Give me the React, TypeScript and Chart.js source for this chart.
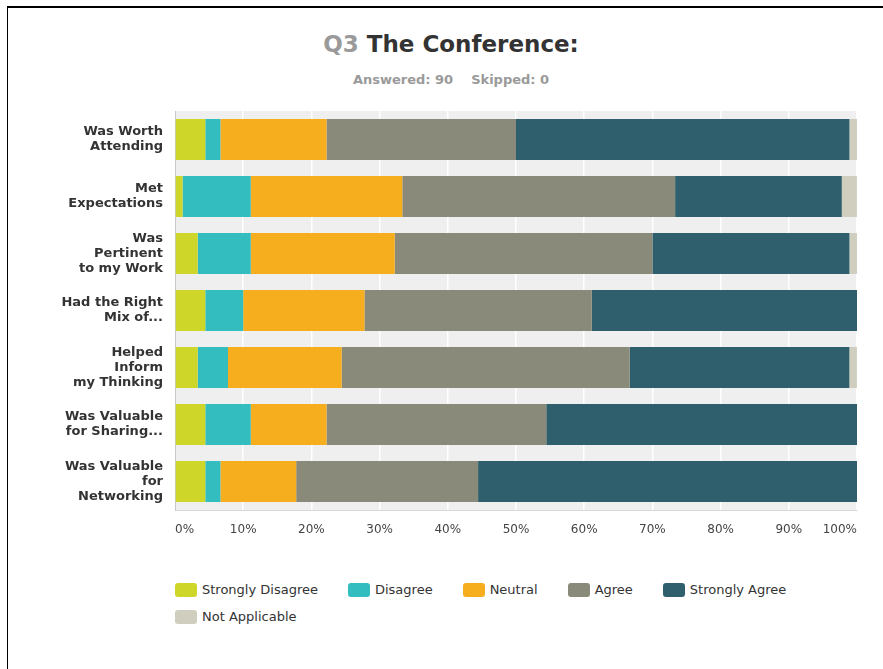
import React, { useEffect, useRef } from "react";
import { Chart, registerables } from "chart.js";

Chart.register(...registerables);

const categories: string[][] = [
  ["Was Worth", "Attending"],
  ["Met", "Expectations"],
  ["Was", "Pertinent", "to my Work"],
  ["Had the Right", "Mix of..."],
  ["Helped", "Inform", "my Thinking"],
  ["Was Valuable", "for Sharing..."],
  ["Was Valuable", "for", "Networking"],
];

const seriesNames = [
  "Strongly Disagree",
  "Disagree",
  "Neutral",
  "Agree",
  "Strongly Agree",
  "Not Applicable",
];

const seriesColors = ["#cfd62a", "#33bdbf", "#f6ae1f", "#898a79", "#2f5f6d", "#d0cfbf"];

const stronglyDisagree = [4.44, 1.11, 3.33, 4.44, 3.33, 4.44, 4.44];
const disagree = [2.22, 10.0, 7.78, 5.56, 4.44, 6.67, 2.22];
const neutral = [15.56, 22.22, 21.11, 17.78, 16.67, 11.11, 11.11];
const agree = [27.78, 40.0, 37.78, 33.33, 42.22, 32.22, 26.67];
const stronglyAgree = [48.89, 24.44, 28.89, 38.89, 32.22, 45.56, 55.56];
const notApplicable = [1.11, 2.22, 1.11, 0, 1.11, 0, 0];

const seriesValues = [stronglyDisagree, disagree, neutral, agree, stronglyAgree, notApplicable];

const xTickValues = [0, 10, 20, 30, 40, 50, 60, 70, 80, 90, 100];

const FONT = "'DejaVu Sans', Verdana, sans-serif";

export default function App() {
  const ref = useRef<HTMLCanvasElement>(null);

  useEffect(() => {
    document.body.style.overflow = "hidden";
    const plotBg = {
      id: "plotBg",
      beforeDraw(chart: any) {
        const { ctx, chartArea } = chart;
        ctx.save();
        ctx.fillStyle = "#efefef";
        ctx.fillRect(chartArea.left, chartArea.top, chartArea.width, chartArea.height);
        ctx.restore();
      },
    };
    const chart = new Chart(ref.current as HTMLCanvasElement, {
      type: "bar",
      data: {
        labels: categories as any,
        datasets: seriesNames.map((name, i) => ({
          label: name,
          data: seriesValues[i],
          backgroundColor: seriesColors[i],
          borderWidth: 0,
          barPercentage: 0.72,
          categoryPercentage: 1,
        })),
      },
      options: {
        indexAxis: "y",
        responsive: false,
        animation: false,
        devicePixelRatio: 1,
        layout: { padding: { top: 11, right: 26, left: 0, bottom: 0 } },
        plugins: {
          legend: { display: false },
          tooltip: { enabled: false },
          title: { display: false },
        },
        scales: {
          x: {
            type: "linear",
            stacked: true,
            min: 0,
            max: 100,
            afterBuildTicks: (s: any) => {
              s.ticks = xTickValues.map((v) => ({ value: v }));
            },
            afterFit: (s: any) => {
              s.height = 40;
              s.paddingLeft = 0;
              s.paddingRight = 0;
            },
            grid: { color: "#ffffff", lineWidth: 1.5, drawTicks: false },
            border: { display: true, color: "#d8d8d8", width: 1 },
            ticks: {
              callback: (v: any) => v + "%",
              align: "inner",
              padding: 13,
              color: "#444444",
              maxRotation: 0,
              autoSkip: false,
              font: { family: FONT, size: 12 },
            },
          },
          y: {
            stacked: true,
            afterFit: (s: any) => {
              s.width = 175;
              s.paddingTop = 0;
              s.paddingBottom = 0;
            },
            grid: { display: false, drawTicks: false },
            border: { display: true, color: "#c8c8c8", width: 1 },
            ticks: {
              padding: 12,
              color: "#333333",
              autoSkip: false,
              font: { family: FONT, size: 13, weight: "bold", lineHeight: 1.15 },
            },
          },
        },
      } as any,
      plugins: [plotBg],
    });
    return () => chart.destroy();
  }, []);

  return (
    <div
      style={{
        position: "fixed",
        left: 0,
        top: 0,
        width: 883,
        height: 669,
        overflow: "hidden",
        background: "#ffffff",
        fontFamily: FONT,
      }}
    >
      <div
        style={{
          position: "absolute",
          left: 7,
          top: 6,
          width: 876,
          height: 663,
          boxSizing: "border-box",
          borderTop: "2px solid #000",
          borderLeft: "1px solid #000",
        }}
      />
      <div
        style={{
          position: "absolute",
          left: 0,
          top: 30,
          width: 902,
          textAlign: "center",
          fontSize: 23,
          lineHeight: "28px",
          fontWeight: "bold",
          whiteSpace: "nowrap",
        }}
      >
        <span style={{ color: "#9a9a9a" }}>Q3</span>
        <span style={{ color: "#333333" }}> The Conference:</span>
      </div>
      <div
        style={{
          position: "absolute",
          left: 0,
          top: 72,
          width: 902,
          textAlign: "center",
          fontSize: 13,
          lineHeight: "16px",
          fontWeight: "bold",
          color: "#9a9a9a",
          whiteSpace: "nowrap",
        }}
      >
        <span>Answered: 90</span>
        <span style={{ marginLeft: 18 }}>Skipped: 0</span>
      </div>
      <canvas
        ref={ref}
        width={883}
        height={450}
        style={{ position: "absolute", left: 0, top: 100, width: 883, height: 450, display: "block" }}
      />
      <div
        style={{
          position: "absolute",
          left: 175,
          top: 583,
          width: 690,
          display: "flex",
          flexWrap: "wrap",
          columnGap: 30,
          rowGap: 13,
        }}
      >
        {seriesNames.map((name, i) => (
          <div key={name} style={{ display: "flex", alignItems: "center", height: 14 }}>
            <div
              style={{
                width: 22,
                height: 14,
                borderRadius: 3,
                background: seriesColors[i],
                marginRight: 5,
              }}
            />
            <span style={{ fontSize: 13, lineHeight: "14px", color: "#333333", whiteSpace: "nowrap" }}>
              {name}
            </span>
          </div>
        ))}
      </div>
    </div>
  );
}
